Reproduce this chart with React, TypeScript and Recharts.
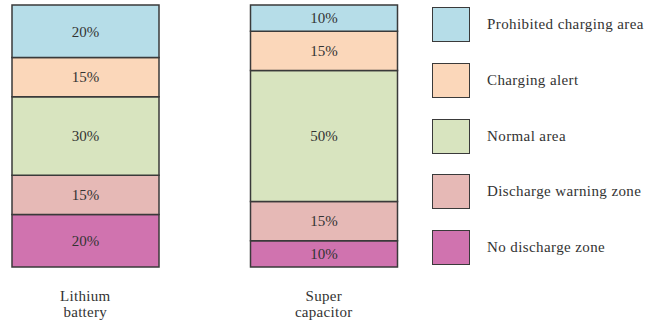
import { Bar, BarChart, LabelList, XAxis, YAxis } from "recharts";

const categories = ["Lithium battery", "Super capacitor"];

// bottom to top of each stack
const noDischarge = [20, 10];
const dischargeWarning = [15, 15];
const normalArea = [30, 50];
const chargingAlert = [15, 15];
const prohibitedCharging = [20, 10];

const series = [
  { key: "noDischarge", name: "No discharge zone", values: noDischarge, color: "#D073AF" },
  { key: "dischargeWarning", name: "Discharge warning zone", values: dischargeWarning, color: "#E6B9B6" },
  { key: "normalArea", name: "Normal area", values: normalArea, color: "#D8E4BF" },
  { key: "chargingAlert", name: "Charging alert", values: chargingAlert, color: "#FBD7BA" },
  { key: "prohibitedCharging", name: "Prohibited charging area", values: prohibitedCharging, color: "#B6DDE8" }
];

const data = categories.map((name, i) => {
  const row: Record<string, string | number> = { name };
  series.forEach((s) => {
    row[s.key] = s.values[i];
  });
  return row;
});

const font = '"Liberation Serif", "Times New Roman", serif';
const edge = "#3a3a3a";

function CategoryTick(props: any) {
  const { x, y, payload } = props;
  const words = String(payload.value).split(" ");
  return (
    <text x={x} y={y} textAnchor="middle" fontFamily={font} fontSize={15} fill="#333" letterSpacing={0.3}>
      {words.map((w, i) => (
        <tspan key={w} x={x} dy={i === 0 ? 26 : 16}>
          {w}
        </tspan>
      ))}
    </text>
  );
}

export default function App() {
  const legendItems = [...series].reverse();
  return (
    <div style={{ position: "absolute", left: 0, top: 0, width: 645, height: 324, background: "#fff", overflow: "hidden" }}>
      <div style={{ position: "absolute", left: -34, top: 0 }}>
        <BarChart width={477} height={324} data={data} margin={{ top: 5, right: 0, bottom: 0, left: 0 }}>
          <XAxis dataKey="name" axisLine={false} tickLine={false} height={57} interval={0} tick={<CategoryTick />} />
          <YAxis hide domain={[0, 100]} width={0} />
          {series.map((s) => (
            <Bar
              key={s.key}
              dataKey={s.key}
              stackId="zones"
              fill={s.color}
              stroke={edge}
              strokeWidth={1.5}
              barSize={147}
              isAnimationActive={false}
            >
              <LabelList
                dataKey={s.key}
                position="center"
                formatter={(v: any) => `${v}%`}
                style={{ fontFamily: font, fontSize: 15, fill: "#333" }}
              />
            </Bar>
          ))}
        </BarChart>
      </div>
      {legendItems.map((s, i) => (
        <div
          key={s.key}
          style={{ position: "absolute", left: 432, top: 7 + i * 55.8, height: 35, display: "flex", alignItems: "center" }}
        >
          <div
            style={{
              width: 36,
              height: 33,
              background: s.color,
              border: `1.5px solid ${edge}`
            }}
          />
          <span
            style={{
              marginLeft: 17,
              fontFamily: font,
              fontSize: 15,
              letterSpacing: 0.4,
              color: "#333",
              whiteSpace: "nowrap"
            }}
          >
            {s.name}
          </span>
        </div>
      ))}
    </div>
  );
}
